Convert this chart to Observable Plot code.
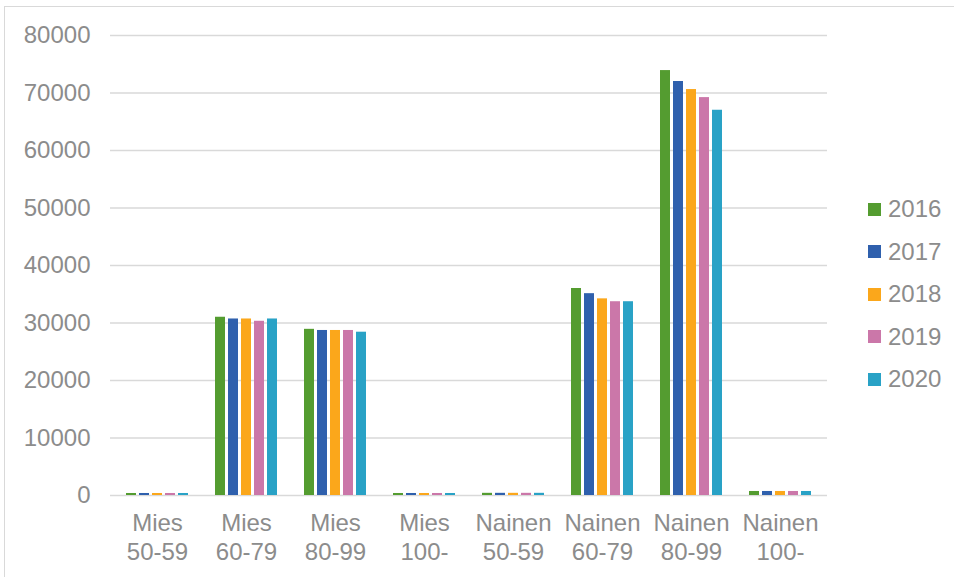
<!DOCTYPE html>
<html>
<head>
<meta charset="utf-8">
<script src="https://cdn.jsdelivr.net/npm/d3@7"></script>
<script src="https://cdn.jsdelivr.net/npm/@observablehq/plot@0.6"></script>
<style>
  html, body { margin: 0; padding: 0; background: #fff; }
  #wrap { position: relative; width: 954px; height: 577px; overflow: hidden; font-family: "Liberation Sans", Arial, sans-serif; }
  #border { position: absolute; left: 4px; top: 6px; width: 980px; height: 620px; border: 1px solid #d9d9d9; box-sizing: border-box; }
  .layer { position: absolute; left: 0; top: 0; }
  #legend { position: absolute; left: 868px; top: 188px; }
  .item { display: flex; align-items: center; height: 42.5px; font-size: 24px; color: #8c8c8c; }
  .sw { width: 13px; height: 13px; margin-right: 7px; }
</style>
</head>
<body>
<div id="wrap"><div id="border"></div><div id="back" class="layer"></div><div id="front" class="layer"></div><div id="legend"></div></div>
<script>
const categories = ["Mies\n50-59", "Mies\n60-79", "Mies\n80-99", "Mies\n100-", "Nainen\n50-59", "Nainen\n60-79", "Nainen\n80-99", "Nainen\n100-"];
const years = ["2016", "2017", "2018", "2019", "2020"];
const v2016 = [350, 31000, 28900, 350, 380, 36000, 73900, 700];
const v2017 = [350, 30700, 28700, 350, 380, 35100, 72000, 700];
const v2018 = [350, 30700, 28700, 350, 380, 34200, 70600, 700];
const v2019 = [350, 30300, 28700, 350, 380, 33700, 69200, 700];
const v2020 = [350, 30700, 28400, 350, 380, 33700, 67000, 700];
const yTicks = [0, 10000, 20000, 30000, 40000, 50000, 60000, 70000, 80000];
const colors = ["#549c30", "#2f60ad", "#fba71b", "#cb77a9", "#29a2c6"];

const series = [v2016, v2017, v2018, v2019, v2020];
const data = [];
categories.forEach((c, i) => years.forEach((y, j) => data.push({category: c, year: y, value: series[j][i]})));

const gray = "#8c8c8c";
const common = {
  width: 954,
  height: 577,
  marginTop: 35,
  marginBottom: 82,
  marginLeft: 110,
  marginRight: 127,
  style: {fontFamily: "'Liberation Sans', Arial, sans-serif", background: "transparent"}
};

const back = Plot.plot({
  ...common,
  y: {domain: [0, 80000], axis: null},
  marks: [
    Plot.ruleY(yTicks, {y: d => d, stroke: "#d9d9d9", strokeWidth: 1.5}),
    Plot.text(yTicks, {y: d => d, text: d => String(d), frameAnchor: "left", textAnchor: "end", dx: -20, fontSize: 24, fill: gray})
  ]
});
document.getElementById("back").appendChild(back);

const front = Plot.plot({
  ...common,
  fx: {domain: categories, paddingInner: 0.26, paddingOuter: 0.13, axis: null, label: null},
  x: {domain: years, paddingInner: 0.2, paddingOuter: 0, axis: null, label: null},
  y: {domain: [0, 80000], axis: null, label: null},
  color: {domain: years, range: colors},
  marks: [
    Plot.barY(data, {fx: "category", x: "year", y: "value", fill: "year"}),
    Plot.text(categories, {fx: d => d, text: d => d, frameAnchor: "bottom", lineAnchor: "top", dy: 15, lineHeight: 1.2, fontSize: 24, fill: gray})
  ]
});
document.getElementById("front").appendChild(front);

const legend = document.getElementById("legend");
years.forEach((y, i) => {
  const it = document.createElement("div");
  it.className = "item";
  it.innerHTML = `<span class="sw" style="background:${colors[i]}"></span><span>${y}</span>`;
  legend.appendChild(it);
});
</script>
</body>
</html>
